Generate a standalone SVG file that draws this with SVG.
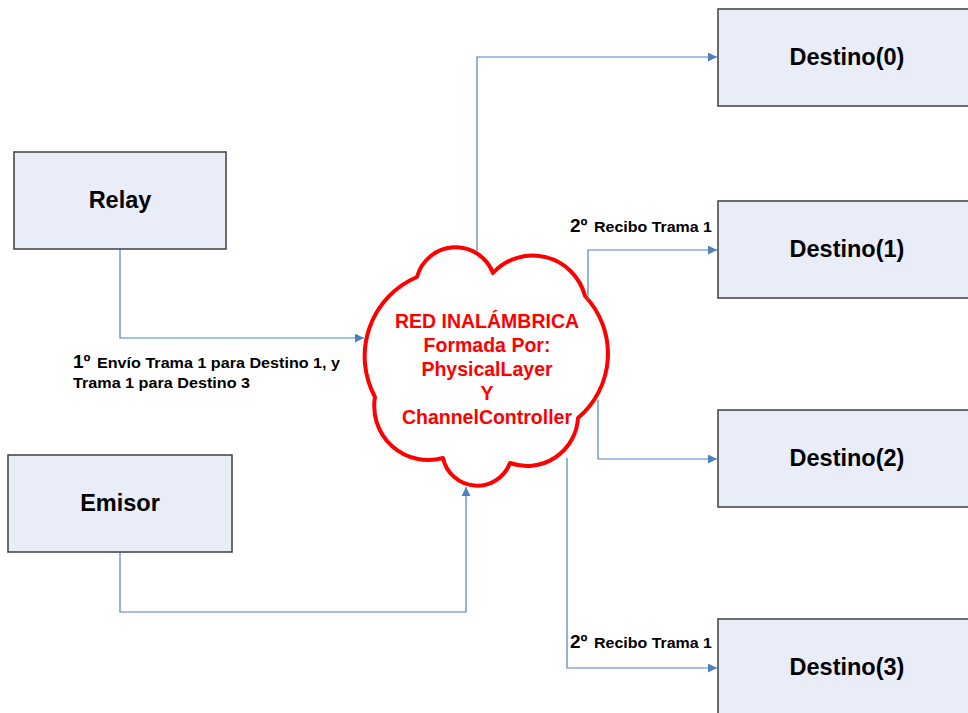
<svg xmlns="http://www.w3.org/2000/svg" width="968" height="713" viewBox="0 0 968 713">
  <style>
    .box { fill: #E8EDF7; stroke: #3F3F3F; stroke-width: 1.5; }
    .name { font-family: "Liberation Sans", Arial, sans-serif; font-weight: bold; font-size: 23.5px; fill: #000; text-anchor: middle; }
    .wire { fill: none; stroke: #4F81BD; stroke-width: 1.2; }
    .cloud { fill: #FFFFFF; stroke: #FF0000; stroke-width: 4; stroke-linejoin: round; }
    .cloudtxt { font-family: "Liberation Sans", Arial, sans-serif; font-weight: bold; font-size: 19.5px; fill: #FF0000; text-anchor: middle; }
    .lbl { font-family: "Liberation Sans", Arial, sans-serif; font-weight: bold; font-size: 14.5px; fill: #000; }
    .num { font-family: "Liberation Sans", Arial, sans-serif; font-weight: bold; font-size: 19px; fill: #000; }
  </style>
  <defs>
    <marker id="arrow" viewBox="0 0 10 10" refX="10" refY="5" markerWidth="11" markerHeight="9" markerUnits="userSpaceOnUse" orient="auto">
      <path d="M0,0 L10,5 L0,10 Z" fill="#4F81BD"/>
    </marker>
  </defs>

  <rect width="968" height="713" fill="#FFFFFF"/>

  <!-- wireless network cloud -->
  <g id="red">
    <path class="cloud" d="M375,397 A86,86 0 0 1 417,277 A40,40 0 0 1 493,273 A54,54 0 0 1 585,296 A84,84 0 0 1 578,418 A51,51 0 0 1 510,463 A35,35 0 0 1 443,458 A54,54 0 0 1 375,397 Z"/>
    <text class="cloudtxt" x="487" y="328">RED INALÁMBRICA</text>
    <text class="cloudtxt" x="487" y="352">Formada Por:</text>
    <text class="cloudtxt" x="487" y="376">PhysicalLayer</text>
    <text class="cloudtxt" x="487" y="400">Y</text>
    <text class="cloudtxt" x="487" y="424">ChannelController</text>
  </g>

  <!-- connectors -->
  <g id="connectors">
    <path class="wire" d="M120,250 V338 H364" marker-end="url(#arrow)"/>
    <path class="wire" d="M120,552 V612 H466 V487" marker-end="url(#arrow)"/>
    <path class="wire" d="M477,252 V57 H717" marker-end="url(#arrow)"/>
    <path class="wire" d="M588,300 V250 H717" marker-end="url(#arrow)"/>
    <path class="wire" d="M598,400 V459 H717" marker-end="url(#arrow)"/>
    <path class="wire" d="M567,458 V668 H717" marker-end="url(#arrow)"/>
  </g>

  <g id="relay">
    <rect class="box" x="14" y="152" width="212" height="97"/>
    <text class="name" x="120" y="208">Relay</text>
  </g>

  <g id="emisor">
    <rect class="box" x="8" y="455" width="224" height="97"/>
    <text class="name" x="120" y="511">Emisor</text>
  </g>

  <g id="destino0">
    <rect class="box" x="718" y="9" width="258" height="97"/>
    <text class="name" x="847" y="65">Destino(0)</text>
  </g>

  <g id="destino1">
    <rect class="box" x="718" y="201" width="258" height="97"/>
    <text class="name" x="847" y="257">Destino(1)</text>
  </g>

  <g id="destino2">
    <rect class="box" x="718" y="410" width="258" height="97"/>
    <text class="name" x="847" y="466">Destino(2)</text>
  </g>

  <g id="destino3">
    <rect class="box" x="718" y="619" width="258" height="97"/>
    <text class="name" x="847" y="675">Destino(3)</text>
  </g>

  <!-- connector labels -->
  <g id="labels">
    <text class="num" x="73" y="368">1º</text>
    <text class="lbl" x="97" y="368" textLength="243" lengthAdjust="spacingAndGlyphs">Envío Trama 1 para Destino 1, y</text>
    <text class="lbl" x="73" y="388" textLength="177" lengthAdjust="spacingAndGlyphs">Trama 1 para Destino 3</text>

    <text class="num" x="570" y="232">2º</text>
    <text class="lbl" x="594" y="232" textLength="118" lengthAdjust="spacingAndGlyphs">Recibo Trama 1</text>

    <text class="num" x="570" y="648">2º</text>
    <text class="lbl" x="594" y="648" textLength="118" lengthAdjust="spacingAndGlyphs">Recibo Trama 1</text>
  </g>
</svg>
